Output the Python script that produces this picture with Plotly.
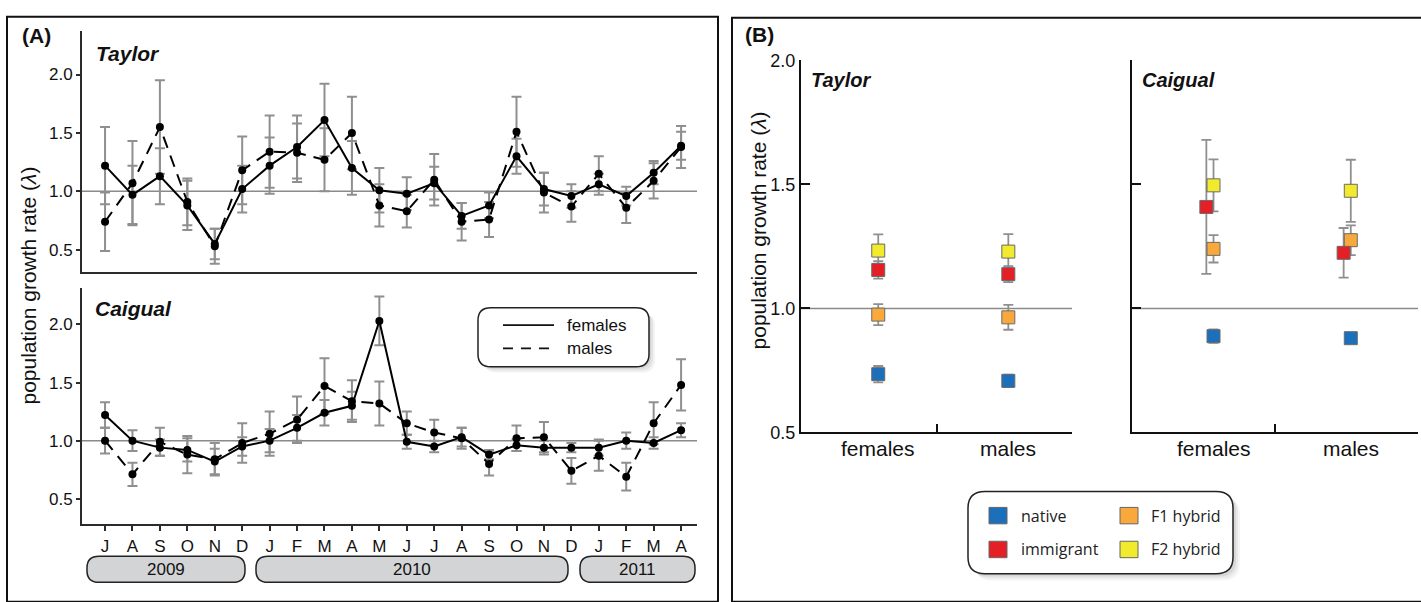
import plotly.graph_objects as go

W, H = 1421, 602

# ---------------- data : panel A (monthly lambda) ----------------
months = ["J", "A", "S", "O", "N", "D", "J", "F", "M", "A", "M",
          "J", "J", "A", "S", "O", "N", "D", "J", "F", "M", "A"]
years = ["2009", "2010", "2011"]

taylor_f = [1.22, 0.97, 1.13, 0.88, 0.55, 1.02, 1.22, 1.38, 1.61, 1.20, 1.01,
            0.98, 1.07, 0.79, 0.88, 1.30, 1.02, 0.96, 1.06, 0.96, 1.16, 1.39]
taylor_f_err = [0.33, 0.25, 0.24, 0.21, 0.13, 0.20, 0.24, 0.27, 0.31, 0.23, 0.19,
                0.14, 0.14, 0.11, 0.11, 0.15, 0.14, 0.10, 0.09, 0.08, 0.10, 0.12]
taylor_m = [0.74, 1.07, 1.55, 0.91, 0.53, 1.18, 1.34, 1.33, 1.27, 1.50, 0.88,
            0.83, 1.10, 0.74, 0.76, 1.51, 0.99, 0.87, 1.15, 0.86, 1.09, 1.38]
taylor_m_err = [0.25, 0.36, 0.40, 0.20, 0.15, 0.29, 0.31, 0.25, 0.27, 0.31, 0.18,
                0.14, 0.22, 0.16, 0.15, 0.30, 0.17, 0.13, 0.15, 0.13, 0.15, 0.18]
caigual_f = [1.22, 1.00, 0.94, 0.92, 0.82, 0.95, 1.00, 1.11, 1.24, 1.30, 2.03,
             0.99, 0.95, 1.03, 0.88, 0.96, 0.94, 0.94, 0.94, 1.00, 0.98, 1.09]
caigual_f_err = [0.11, 0.09, 0.07, 0.10, 0.11, 0.08, 0.10, 0.11, 0.11, 0.12, 0.21,
                 0.06, 0.05, 0.08, 0.04, 0.05, 0.06, 0.04, 0.07, 0.07, 0.05, 0.06]
caigual_m = [1.00, 0.71, 0.99, 0.88, 0.84, 0.98, 1.06, 1.18, 1.47, 1.34, 1.32,
             1.15, 1.07, 1.02, 0.80, 1.02, 1.03, 0.74, 0.87, 0.69, 1.15, 1.48]
caigual_m_err = [0.11, 0.10, 0.12, 0.16, 0.14, 0.17, 0.19, 0.20, 0.24, 0.18, 0.19,
                 0.10, 0.11, 0.09, 0.10, 0.11, 0.13, 0.11, 0.13, 0.12, 0.18, 0.22]

# ---------------- data : panel B (overall lambda by origin) ----------------
sexes = ["females", "males"]
groups = ["native", "immigrant", "F1 hybrid", "F2 hybrid"]
taylor_b = {"native": [0.735, 0.708], "immigrant": [1.155, 1.138],
            "F1 hybrid": [0.975, 0.964], "F2 hybrid": [1.233, 1.229]}
taylor_b_err = {"native": [0.033, 0.025], "immigrant": [0.035, 0.032],
                "F1 hybrid": [0.042, 0.050], "F2 hybrid": [0.065, 0.070]}
caigual_b = {"native": [0.888, 0.880], "immigrant": [1.409, 1.224],
             "F1 hybrid": [1.240, 1.275], "F2 hybrid": [1.496, 1.474]}
caigual_b_err = {"native": [0.027, 0.012], "immigrant": [0.27, 0.10],
                 "F1 hybrid": [0.055, 0.060], "F2 hybrid": [0.105, 0.125]}

# ---------------- style ----------------
FONT = "Liberation Sans, Arial, sans-serif"
LEG_FONT = "Open Sans, Liberation Sans, sans-serif"
AXC = "#2b2b2b"
ERRC = "#8f8f8f"
REFC = "#8a8a8a"
group_colors = {"native": "#1c6fbb", "immigrant": "#e41f26",
                "F1 hybrid": "#f9a93b", "F2 hybrid": "#f2ea2d"}
dodge = {"Caigual": {"immigrant": -0.05}}
sex_x = [0.57, 1.53]


def px(x):
    return x / W


def py(y):
    return 1 - y / H


def rrect_path(x0, y0, x1, y1, r):
    pts = [("M", [(x0 + r, y0)]), ("L", [(x1 - r, y0)]), ("Q", [(x1, y0), (x1, y0 + r)]),
           ("L", [(x1, y1 - r)]), ("Q", [(x1, y1), (x1 - r, y1)]),
           ("L", [(x0 + r, y1)]), ("Q", [(x0, y1), (x0, y1 - r)]),
           ("L", [(x0, y0 + r)]), ("Q", [(x0, y0), (x0 + r, y0)])]
    s = ""
    for cmd, ps in pts:
        s += cmd + " " + " ".join(f"{px(a):.5f},{py(b):.5f}" for a, b in ps) + " "
    return s + "Z"


fig = go.Figure()
xidx = list(range(len(months)))

# ---------- panel A traces ----------
panelA = [("x", "y", taylor_f, taylor_f_err, taylor_m, taylor_m_err),
          ("x2", "y2", caigual_f, caigual_f_err, caigual_m, caigual_m_err)]
for xa, ya, f, fe, m, me in panelA:
    for vals, errs in ((f, fe), (m, me)):
        fig.add_trace(go.Scatter(
            x=xidx, y=vals, xaxis=xa, yaxis=ya, mode="markers",
            marker=dict(size=1, color="rgba(0,0,0,0)"),
            error_y=dict(type="data", array=errs, visible=True, color=ERRC,
                         thickness=2, width=5),
            showlegend=False, hoverinfo="skip"))
    for vals, dash in ((m, "12px,8px"), (f, "solid")):
        fig.add_trace(go.Scatter(
            x=xidx, y=vals, xaxis=xa, yaxis=ya, mode="lines+markers",
            line=dict(color="black", width=2, dash=dash),
            marker=dict(size=8, color="black"),
            showlegend=False))

# ---------- panel B traces ----------
panelB = [("x3", "y3", "Taylor", taylor_b, taylor_b_err),
          ("x4", "y4", "Caigual", caigual_b, caigual_b_err)]
for xa, ya, name, vals, errs in panelB:
    order = ["native", "F1 hybrid", "F2 hybrid", "immigrant"]
    for g in order:
        xs = [sx + dodge.get(name, {}).get(g, 0) for sx in sex_x]
        fig.add_trace(go.Scatter(
            x=xs, y=vals[g], xaxis=xa, yaxis=ya, mode="markers",
            marker=dict(size=1, color="rgba(0,0,0,0)"),
            error_y=dict(type="data", array=errs[g], visible=True, color=ERRC,
                         thickness=1.8, width=5),
            showlegend=False, hoverinfo="skip"))
    for g in order:
        xs = [sx + dodge.get(name, {}).get(g, 0) for sx in sex_x]
        fig.add_trace(go.Scatter(
            x=xs, y=vals[g], xaxis=xa, yaxis=ya, mode="markers",
            marker=dict(symbol="square", size=13, color=group_colors[g],
                        line=dict(color="#6a6a6a", width=1)),
            showlegend=False))

# ---------- axes ----------
a_xrange = [-0.84, 21.58]
common_ax = dict(showgrid=False, zeroline=False, showline=True, linecolor=AXC,
                 linewidth=2, tickcolor=AXC, tickfont=dict(family=FONT, size=17, color="#111"))
fig.update_layout(
    xaxis=dict(domain=[px(82), px(697)], range=a_xrange, anchor="y",
               showticklabels=False, ticks="", **common_ax),
    yaxis=dict(domain=[py(271), py(22)], range=[0.31, 2.37], anchor="x",
               tickvals=[0.5, 1.0, 1.5, 2.0], ticktext=["0.5", "1.0", "1.5", "2.0"],
               ticks="outside", ticklen=4, tickwidth=1.5, **common_ax),
    xaxis2=dict(domain=[px(82), px(697)], range=a_xrange, anchor="y2",
                tickvals=xidx, ticktext=months, ticks="outside", ticklen=5,
                tickwidth=1.5, **common_ax),
    yaxis2=dict(domain=[py(532), py(288)], range=[0.28, 2.31], anchor="x2",
                tickvals=[0.5, 1.0, 1.5, 2.0], ticktext=["0.5", "1.0", "1.5", "2.0"],
                ticks="outside", ticklen=4, tickwidth=1.5, **common_ax),
)
common_b = dict(showgrid=False, zeroline=False, showline=True, linecolor="#111",
                linewidth=2, tickcolor="#111", tickwidth=2,
                tickfont=dict(family=FONT, size=18, color="#111"))
fig.update_layout(
    xaxis3=dict(domain=[px(801), px(1072)], range=[0, 2], anchor="y3",
                tickvals=[1, 2], ticktext=["", ""], ticks="inside", ticklen=8, **common_b),
    yaxis3=dict(domain=[py(437), py(52)], range=[0.5, 2.0], anchor="x3",
                tickvals=[0.5, 1.0, 1.5, 2.0], ticktext=["0.5", "1.0", "1.5", "2.0"],
                ticks="inside", ticklen=9, **common_b),
    xaxis4=dict(domain=[px(1132), px(1418)], range=[0, 2], anchor="y4",
                tickvals=[1, 2], ticktext=["", ""], ticks="inside", ticklen=8, **common_b),
    yaxis4=dict(domain=[py(437), py(52)], range=[0.5, 2.0], anchor="x4",
                tickvals=[0.5, 1.0, 1.5, 2.0], showticklabels=False,
                ticks="inside", ticklen=9, **common_b),
)

shapes = []
annotations = []

# panel frames
shapes.append(dict(type="rect", xref="paper", yref="paper", x0=px(7), x1=px(718),
                   y0=py(612), y1=py(7), line=dict(color="#111", width=2), layer="below"))
shapes.append(dict(type="rect", xref="paper", yref="paper", x0=px(732), x1=px(1430),
                   y0=py(612), y1=py(8), line=dict(color="#111", width=2), layer="below"))

# reference lines at lambda = 1
for xa, ya in (("x", "y"), ("x2", "y2"), ("x3", "y3"), ("x4", "y4")):
    shapes.append(dict(type="line", xref=f"{xa} domain", yref=ya, x0=0, x1=1, y0=1.0, y1=1.0,
                       line=dict(color=REFC, width=1.5), layer="below"))

# year bars
year_spans = [(87, 245), (256, 568), (580, 695)]
for yr, (a, b) in zip(years, year_spans):
    shapes.append(dict(type="path", xref="paper", yref="paper",
                       path=rrect_path(a, 565, b, 592, 12),
                       fillcolor="#d3d4d6", line=dict(color="#222", width=1.5)))
    annotations.append(dict(x=px((a + b) / 2), y=py(578.5), xref="paper", yref="paper",
                            text=yr, showarrow=False, xanchor="center", yanchor="middle",
                            font=dict(family=FONT, size=17, color="#111")))

# legend panel A
for off, col in ((6, "rgba(0,0,0,0.05)"), (4, "rgba(0,0,0,0.06)"), (2, "rgba(0,0,0,0.07)")):
    shapes.append(dict(type="path", xref="paper", yref="paper",
                       path=rrect_path(478 + off, 308 + off, 649 + off, 369 + off, 13),
                       fillcolor=col, line=dict(width=0)))
shapes.append(dict(type="path", xref="paper", yref="paper",
                   path=rrect_path(478, 308, 649, 369, 13),
                   fillcolor="white", line=dict(color="#222", width=1.5)))
shapes.append(dict(type="line", xref="paper", yref="paper", x0=px(503), x1=px(554),
                   y0=py(326), y1=py(326), line=dict(color="#111", width=1.8)))
shapes.append(dict(type="line", xref="paper", yref="paper", x0=px(503), x1=px(556),
                   y0=py(350), y1=py(350), line=dict(color="#111", width=1.8, dash="10px,8px")))
for txt, yy in (("females", 326), ("males", 350)):
    annotations.append(dict(x=px(565), y=py(yy), xref="paper", yref="paper", text=txt,
                            showarrow=False, xanchor="left", yanchor="middle",
                            font=dict(family=FONT, size=17, color="#111")))

# legend panel B
for off, col in ((7, "rgba(0,0,0,0.04)"), (5, "rgba(0,0,0,0.05)"), (3, "rgba(0,0,0,0.07)")):
    shapes.append(dict(type="path", xref="paper", yref="paper",
                       path=rrect_path(968 + off, 498 + off, 1233 + off, 583 + off, 17),
                       fillcolor=col, line=dict(width=0)))
shapes.append(dict(type="path", xref="paper", yref="paper",
                   path=rrect_path(968, 498, 1233, 583, 17),
                   fillcolor="white", line=dict(color="#222", width=1.5)))
leg_pos = {"native": (998, 523, 1019), "immigrant": (998, 558, 1019),
           "F1 hybrid": (1129, 523, 1149), "F2 hybrid": (1129, 558, 1149)}
for g in groups:
    cx, cy, tx = leg_pos[g]
    shapes.append(dict(type="rect", xref="paper", yref="paper",
                       x0=px(cx - 9), x1=px(cx + 9), y0=py(cy + 8.5), y1=py(cy - 8.5),
                       fillcolor=group_colors[g], line=dict(color="#666", width=1)))
    annotations.append(dict(x=px(tx), y=py(cy), xref="paper", yref="paper", text=g,
                            showarrow=False, xanchor="left", yanchor="middle",
                            font=dict(family=LEG_FONT, size=16, color="#222")))

# panel B category labels
for xa in ("x3", "x4"):
    for sx, s in zip(sex_x, sexes):
        annotations.append(dict(x=sx, y=py(454), xref=xa, yref="paper", text=s,
                                showarrow=False, xanchor="center", yanchor="middle",
                                font=dict(family=FONT, size=21, color="#111")))

# titles
annotations += [
    dict(x=px(20), y=py(26), xref="paper", yref="paper", text="<b>(A)</b>", showarrow=False,
         xanchor="left", yanchor="middle", font=dict(family=FONT, size=21, color="#111")),
    dict(x=px(743), y=py(25), xref="paper", yref="paper", text="<b>(B)</b>", showarrow=False,
         xanchor="left", yanchor="middle", font=dict(family=FONT, size=21, color="#111")),
    dict(x=px(94), y=py(45), xref="paper", yref="paper", text="<b><i>Taylor</i></b>",
         showarrow=False, xanchor="left", yanchor="middle",
         font=dict(family=FONT, size=21, color="#111")),
    dict(x=px(93), y=py(309), xref="paper", yref="paper", text="<b><i>Caigual</i></b>",
         showarrow=False, xanchor="left", yanchor="middle",
         font=dict(family=FONT, size=21, color="#111")),
    dict(x=px(809), y=py(72), xref="paper", yref="paper", text="<b><i>Taylor</i></b>",
         showarrow=False, xanchor="left", yanchor="middle",
         font=dict(family=FONT, size=20, color="#111")),
    dict(x=px(1140), y=py(72), xref="paper", yref="paper", text="<b><i>Caigual</i></b>",
         showarrow=False, xanchor="left", yanchor="middle",
         font=dict(family=FONT, size=20, color="#111")),
    dict(x=px(29), y=py(285), xref="paper", yref="paper", text="population growth rate (<i>λ</i>)",
         textangle=-90, showarrow=False, xanchor="center", yanchor="middle",
         font=dict(family=FONT, size=21, color="#111")),
    dict(x=px(758), y=py(228), xref="paper", yref="paper", text="population growth rate (<i>λ</i>)",
         textangle=-90, showarrow=False, xanchor="center", yanchor="middle",
         font=dict(family=FONT, size=21, color="#111")),
]

fig.update_layout(width=W, height=H, margin=dict(l=0, r=0, t=0, b=0),
                  paper_bgcolor="white", plot_bgcolor="rgba(0,0,0,0)",
                  shapes=shapes, annotations=annotations, showlegend=False)

fig.write_html("out.html")
